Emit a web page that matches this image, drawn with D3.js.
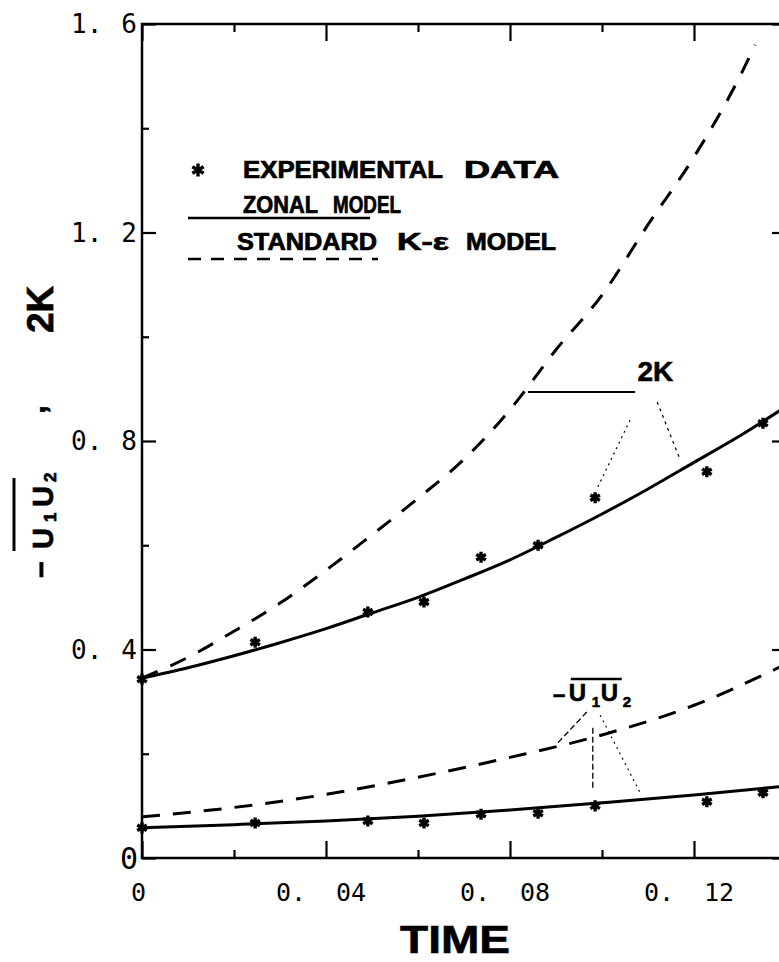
<!DOCTYPE html>
<html>
<head>
<meta charset="utf-8">
<script src="https://cdn.jsdelivr.net/npm/d3@7"></script>
<style>
  html, body { margin: 0; padding: 0; background: #fff; }
  svg { display: block; }
</style>
</head>
<body>
<script>
// ---- data ----
// experimental points (time, value)
const expTime = [0, 0.0246, 0.0491, 0.0613, 0.0737, 0.0861, 0.0985, 0.1228, 0.135];
const exp2K = [0.343, 0.414, 0.472, 0.491, 0.577, 0.600, 0.691, 0.741, 0.834];
const expUV = [0.058, 0.067, 0.071, 0.067, 0.084, 0.086, 0.100, 0.108, 0.125];

// zonal model
const zonalTime = [0, 0.01, 0.02, 0.03, 0.04, 0.05, 0.06, 0.07, 0.08, 0.09, 0.10, 0.11, 0.12, 0.13, 0.14];
const zonal2K = [0.345, 0.365, 0.388, 0.413, 0.440, 0.470, 0.500, 0.535, 0.572, 0.615, 0.660, 0.708, 0.759, 0.810, 0.866];
const zonalUVTime = [0, 0.02, 0.04, 0.06, 0.08, 0.10, 0.12, 0.14];
const zonalUV = [0.058, 0.064, 0.071, 0.080, 0.092, 0.106, 0.121, 0.138];

// standard k-epsilon model
const keTime = [0, 0.01, 0.02, 0.03, 0.04, 0.05, 0.06, 0.07, 0.08, 0.09, 0.10, 0.11, 0.12, 0.13, 0.1333];
const ke2K = [0.345, 0.385, 0.435, 0.489, 0.552, 0.620, 0.690, 0.765, 0.860, 0.975, 1.080, 1.215, 1.345, 1.500, 1.560];
const keUVTime = [0, 0.02, 0.04, 0.06, 0.08, 0.10, 0.12, 0.14];
const keUV = [0.079, 0.097, 0.122, 0.155, 0.193, 0.236, 0.293, 0.372];

// axis ticks
const xMajor = [0, 0.04, 0.08, 0.12];
const xMinor = [0.02, 0.06, 0.10, 0.14];
const yMajor = [0, 0.4, 0.8, 1.2, 1.6];
const yMinor = [0.2, 0.6, 1.0, 1.4];

// ---- layout ----
const W = 779, H = 962;
const svg = d3.select("body").append("svg").attr("width", W).attr("height", H);

const x = d3.scaleLinear().domain([0, 0.14]).range([142, 786]);
const y = d3.scaleLinear().domain([0, 1.6]).range([858, 24]);

const tickFont = "'DejaVu Sans Mono', 'Liberation Mono', monospace";
const boldFont = "'Liberation Sans', Arial, Helvetica, sans-serif";

// inward tick marks on all four sides, no labels from the axis itself
function ticksOnly(g) {
  g.select(".domain").remove();
  g.selectAll(".tick line").attr("stroke", "#000").attr("stroke-width", 2.2);
  g.selectAll(".tick text").remove();
}
const sides = [
  [d3.axisBottom, x, xMajor, -17, `translate(0,${y(0)})`],
  [d3.axisBottom, x, xMinor, -8, `translate(0,${y(0)})`],
  [d3.axisTop, x, xMajor, -17, `translate(0,${y(1.6)})`],
  [d3.axisTop, x, xMinor, -8, `translate(0,${y(1.6)})`],
  [d3.axisLeft, y, yMajor, -14, `translate(${x(0)},0)`],
  [d3.axisLeft, y, yMinor, -7, `translate(${x(0)},0)`],
  [d3.axisRight, y, yMajor, -14, `translate(${x(0.14)},0)`],
  [d3.axisRight, y, yMinor, -7, `translate(${x(0.14)},0)`]
];
sides.forEach(([axis, s, vals, len, tr]) => {
  svg.append("g").attr("transform", tr)
    .call(axis(s).tickValues(vals).tickSize(len))
    .call(ticksOnly);
});

// tick labels in a plotter style: "0." and the trailing digits set apart.
// every piece is start-anchored and placed from its measured width.
function putText(g, str, left, right, base, size) {
  const t = g.append("text").attr("y", base).attr("font-size", size).attr("x", 0).text(str);
  const w = t.node().getComputedTextLength();
  t.attr("x", left != null ? left : right - w);
  return t;
}
const xl = svg.append("g").attr("font-family", tickFont).attr("fill", "#000");
xMajor.forEach(v => {
  const px = x(v), base = y(0) + 43;
  if (v === 0) { putText(xl, "0", null, px + 4, base, 25); return; }
  const s = v.toFixed(2), i = s.indexOf(".") + 1;
  putText(xl, s.slice(0, i), px - 50, null, base, 25);
  putText(xl, s.slice(i), null, px + 40, base, 25);
});
const yl = svg.append("g").attr("font-family", tickFont).attr("fill", "#000");
yMajor.forEach(v => {
  const py = y(v) + 9;
  if (v === 0) { putText(yl, "0", null, x(0) - 4, py + 2, 30); return; }
  const s = v.toFixed(1), i = s.indexOf(".") + 1;
  putText(yl, s.slice(0, i), x(0) - 71, null, py, 26);
  putText(yl, s.slice(i), null, x(0) - 5, py, 26);
});

// frame
svg.append("rect")
  .attr("x", x(0)).attr("y", y(1.6))
  .attr("width", x(0.14) - x(0)).attr("height", y(0) - y(1.6))
  .attr("fill", "none").attr("stroke", "#000").attr("stroke-width", 2.5);

// ---- curves ----
const line = d3.line().x(d => x(d[0])).y(d => y(d[1])).curve(d3.curveMonotoneX);
const zip = (a, b) => a.map((t, i) => [t, b[i]]);

const curves = [
  { pts: zip(zonalTime, zonal2K), dash: null },
  { pts: zip(zonalUVTime, zonalUV), dash: null },
  { pts: zip(keTime, ke2K), dash: "17,14" },
  { pts: zip(keUVTime, keUV), dash: "18,13" }
];
svg.append("g").selectAll("path").data(curves).join("path")
  .attr("d", d => line(d.pts))
  .attr("fill", "none")
  .attr("stroke", "#000")
  .attr("stroke-width", 3)
  .attr("stroke-dasharray", d => d.dash);

// ---- experimental points ----
const star = d3.symbol().type(d3.symbolAsterisk).size(85);
const points = zip(expTime, exp2K).concat(zip(expTime, expUV));
svg.append("g").selectAll("path").data(points).join("path")
  .attr("transform", d => `translate(${x(d[0])},${y(d[1])})`)
  .attr("d", star)
  .attr("fill", "none")
  .attr("stroke", "#000")
  .attr("stroke-width", 3.4);

// ---- annotations (in data units) ----
const ann = svg.append("g");
const seg = (a, b, w, dash) => ann.append("line")
  .attr("x1", x(a[0])).attr("y1", y(a[1])).attr("x2", x(b[0])).attr("y2", y(b[1]))
  .attr("stroke", "#000").attr("stroke-width", w).attr("stroke-dasharray", dash);

// 2K
ann.append("text").attr("x", x(0.1077)).attr("y", y(0.915))
  .attr("font-family", boldFont).attr("font-weight", "bold").attr("font-size", 28)
  .attr("stroke", "#000").attr("stroke-width", 0.6)
  .text("2K");
seg([0.0839, 0.894], [0.1072, 0.894], 2.2, null);
seg([0.1061, 0.840], [0.0991, 0.712], 1.2, "2,4");
seg([0.1120, 0.875], [0.1170, 0.764], 1.2, "3,4");

// -u1u2
const lbl = ann.append("g").attr("font-family", boldFont).attr("font-weight", "bold")
  .attr("fill", "#000").attr("stroke", "#000").attr("stroke-width", 0.6);
const lx = x(0.0893), ly = y(0.2935);
lbl.append("text").attr("x", lx).attr("y", ly - 2).attr("font-size", 22).text("\u2212");
lbl.append("text").attr("x", lx + 16).attr("y", ly - 4).attr("font-size", 24).text("U");
lbl.append("text").attr("x", lx + 39).attr("y", ly + 2).attr("font-size", 15).text("1");
lbl.append("text").attr("x", lx + 48).attr("y", ly - 4).attr("font-size", 24).text("U");
lbl.append("text").attr("x", lx + 70).attr("y", ly + 2).attr("font-size", 15).text("2");
ann.append("line").attr("x1", lx + 18).attr("x2", lx + 69).attr("y1", ly - 26).attr("y2", ly - 26)
  .attr("stroke", "#000").attr("stroke-width", 2.6);
seg([0.0967, 0.280], [0.0904, 0.221], 1.3, "6,3");
seg([0.0980, 0.250], [0.0980, 0.130], 1.3, "6,3");
seg([0.0996, 0.274], [0.1083, 0.125], 1.1, "2,4");

// ---- legend ----
const leg = svg.append("g").attr("font-family", boldFont).attr("font-weight", "bold")
  .attr("font-size", 23).attr("fill", "#000").attr("stroke", "#000").attr("stroke-width", 0.7);
leg.append("path").attr("transform", "translate(198,170)")
  .attr("d", d3.symbol().type(d3.symbolAsterisk).size(120)())
  .attr("fill", "none").attr("stroke", "#000").attr("stroke-width", 3.4);
const word = (t, x0, yb, len) => leg.append("text").attr("x", x0).attr("y", yb)
  .attr("textLength", len).attr("lengthAdjust", "spacingAndGlyphs").text(t);
word("EXPERIMENTAL", 243, 178, 200);
word("DATA", 464, 178, 95);
word("ZONAL", 243, 213, 75);
word("MODEL", 333, 213, 68);
word("STANDARD", 237, 250, 140);
word("K-\u03B5", 397, 250, 52);
word("MODEL", 466, 250, 90);
leg.append("line").attr("x1", 188).attr("x2", 370).attr("y1", 218).attr("y2", 218)
  .attr("stroke", "#000").attr("stroke-width", 2.6);
leg.append("line").attr("x1", 188).attr("x2", 378).attr("y1", 259).attr("y2", 259)
  .attr("stroke", "#000").attr("stroke-width", 2.6).attr("stroke-dasharray", "13,10");

// ---- axis titles ----
svg.append("text").attr("x", 400).attr("y", 953)
  .attr("font-family", boldFont).attr("font-weight", "bold").attr("font-size", 38)
  .attr("stroke", "#000").attr("stroke-width", 0.6)
  .attr("textLength", 110).attr("lengthAdjust", "spacingAndGlyphs")
  .text("TIME");

// vertical title, read bottom to top; local u = -pageY
const yt = svg.append("g").attr("transform", "translate(53,0) rotate(-90)")
  .attr("font-family", boldFont).attr("font-weight", "bold").attr("fill", "#000")
  .attr("stroke", "#000").attr("stroke-width", 0.7);
yt.append("text").attr("x", -578).attr("y", -2).attr("font-size", 29).text("\u2212");
yt.append("text").attr("x", -549).attr("y", 0).attr("font-size", 29).text("U");
yt.append("text").attr("x", -522).attr("y", 3).attr("font-size", 17).text("1");
yt.append("text").attr("x", -507).attr("y", 0).attr("font-size", 29).text("U");
yt.append("text").attr("x", -482).attr("y", 3).attr("font-size", 17).text("2");
yt.append("text").attr("x", -414).attr("y", -8).attr("font-size", 32).text(",");
yt.append("text").attr("x", -333).attr("y", 0).attr("font-size", 37).text("2K");
yt.append("line").attr("x1", -551).attr("x2", -478).attr("y1", -39).attr("y2", -39)
  .attr("stroke", "#000").attr("stroke-width", 3);
</script>
</body>
</html>
